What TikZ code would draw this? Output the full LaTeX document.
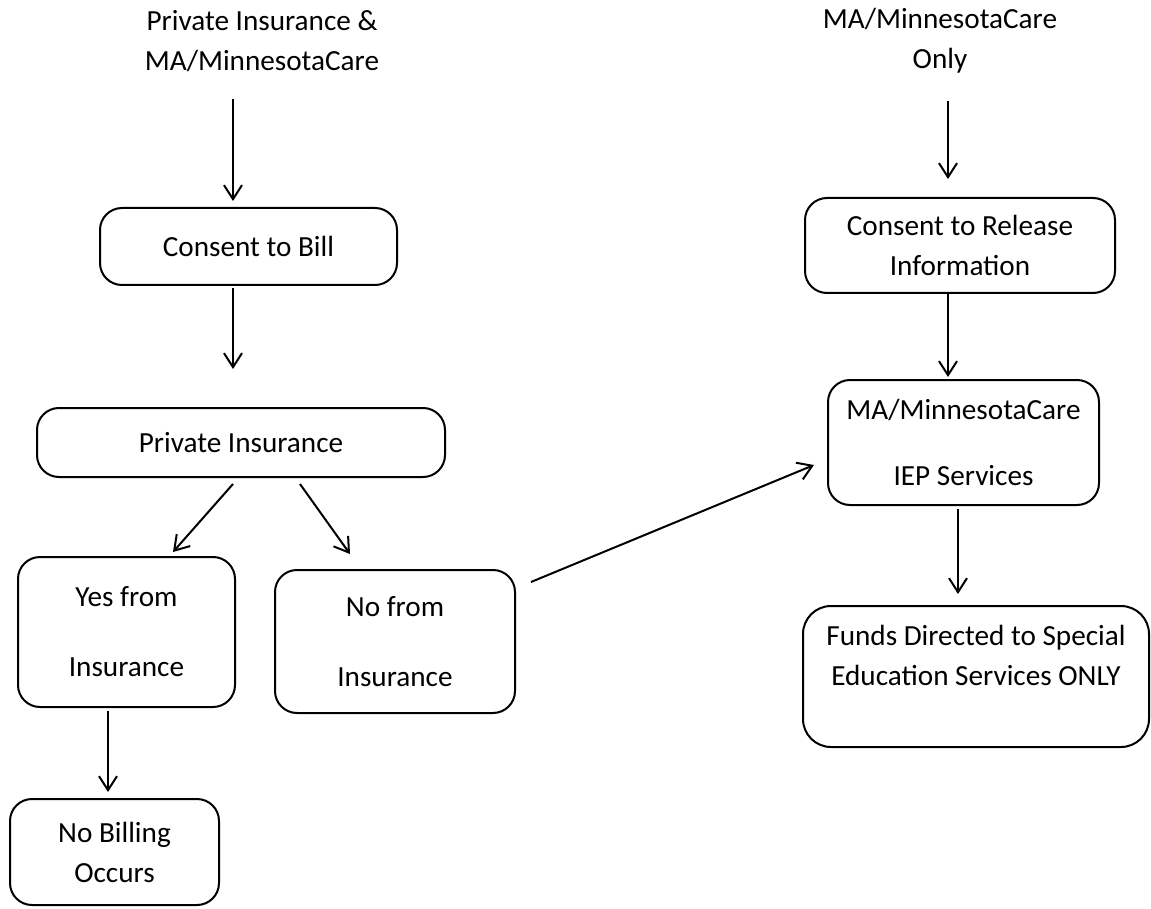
\documentclass[tikz,border=0pt]{standalone}
\usepackage{fontspec}
\setmainfont{Carlito}
\usetikzlibrary{arrows.meta,calc}
\begin{document}
\begin{tikzpicture}[x=0.5pt, y=-0.5pt,
    every node/.style={font=\fontsize{14.6}{20}\selectfont},
    box/.style={draw, line width=1pt, rounded corners=11pt, align=center, inner sep=2pt},
    txt/.style={align=center, inner sep=0pt},
    arr/.style={-{Straight Barb[length=7pt,width=9pt]}, line width=1pt}]
    \useasboundingbox (0,0) rectangle (1151,909);

    % Left branch
    \node[txt] (both) at (262,41) {Private Insurance \&\\MA/MinnesotaCare};
    \node[box, minimum width=148.5pt, minimum height=38.5pt] (bill) at (248.5,246.5) {Consent to Bill};
    \node[box, minimum width=204pt, minimum height=34.5pt] (priv) at (241,442.5) {Private Insurance};
    \node[box, minimum width=108.5pt, minimum height=75pt] (yes) at (126.5,632) {Yes from\\[15pt]Insurance};
    \node[box, minimum width=120pt, minimum height=71.5pt] (no) at (395,641.5) {No from\\[15pt]Insurance};
    \node[box, minimum width=104.5pt, minimum height=53pt] (nobill) at (114.5,852) {No Billing\\Occurs};

    % Right branch
    \node[txt] (only) at (940,41) {MA/MinnesotaCare\\Only};
    \node[box, minimum width=155pt, minimum height=47.5pt] (release) at (960,245.5) {Consent to Release\\Information};
    \node[box, minimum width=135.5pt, minimum height=62.5pt] (ma) at (963.5,442.5) {MA/MinnesotaCare\\[13pt]IEP Services};
    \node[box, rounded corners=14pt, minimum width=173pt, minimum height=70.5pt, text depth=21pt] (funds) at (976,676.5)
        {Funds Directed to Special\\Education Services ONLY};

    % Arrows
    \draw[arr] ($(both.south)+(-29,27)$) -- ($(bill.north)+(-15.5,-6)$);
    \draw[arr] ($(bill.south)+(-15.5,2)$) -- ($(priv.north)+(-8,-38)$);
    \draw[arr] ($(priv.south)+(-8,6)$) -- ($(yes.north)+(46.5,-4)$);
    \draw[arr] ($(priv.south)+(59,6)$) -- ($(no.north)+(-45,-15)$);
    \draw[arr] ($(yes.south)+(-18.5,3)$) -- ($(nobill.north)+(-6.5,-6)$);
    \draw[arr] ($(no.north east)+(15,13)$) -- ($(ma.west)+(-13,22.5)$);
    \draw[arr] ($(only.south)+(8,27)$) -- ($(release.north)+(-12,-18)$);
    \draw[arr] ($(release.south)+(-12,0)$) -- ($(ma.north)+(-15.5,-2)$);
    \draw[arr] ($(ma.south)+(-5.5,3)$) -- ($(funds.north)+(-18,-11)$);
\end{tikzpicture}
\end{document}
